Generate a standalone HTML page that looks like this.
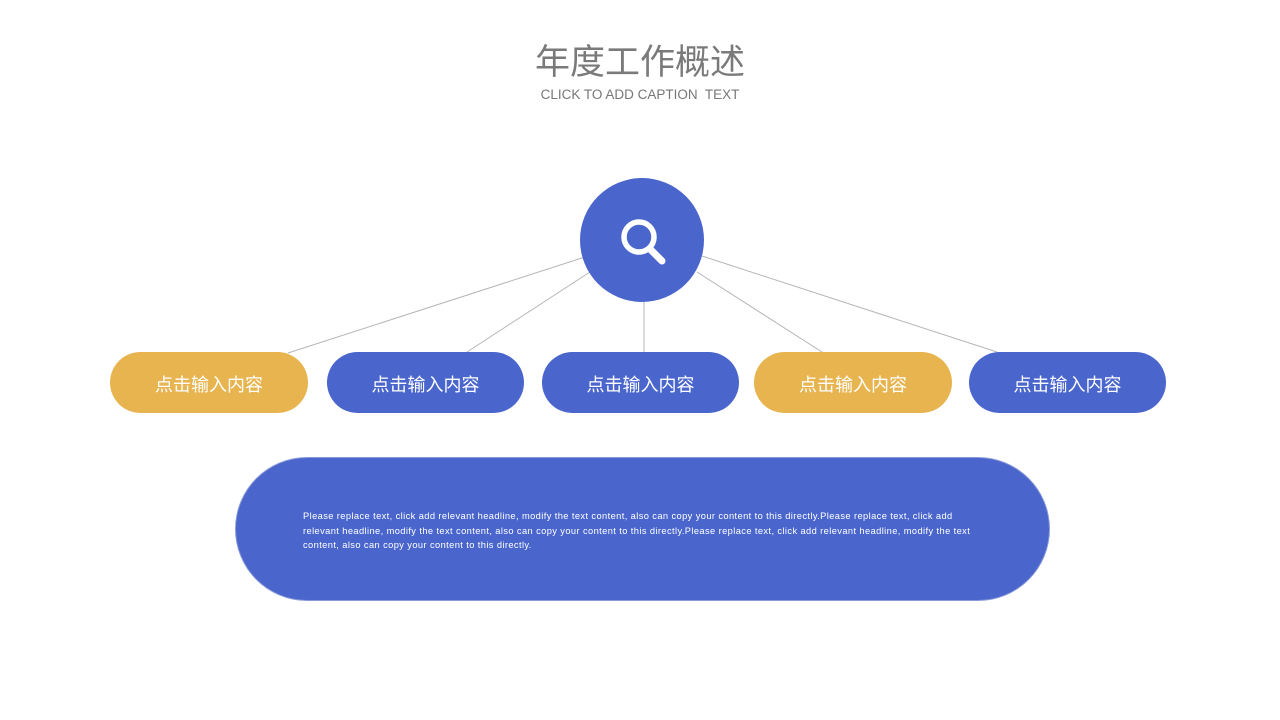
<!DOCTYPE html>
<html><head><meta charset="utf-8"><style>
html,body{margin:0;padding:0}
body{width:1280px;height:720px;position:relative;background:#fff;overflow:hidden;font-family:"Liberation Sans","Noto Sans CJK SC",sans-serif}
.t{position:absolute;left:0;width:1280px;text-align:center;color:#7a7a7a}
.pill{position:absolute;top:352px;height:61px;border-radius:31px;color:#fff;font-size:18px;line-height:66px;text-align:center}
.y{background:#E8B450}.b{background:#4A66CC}
</style></head><body>
<div class="t" style="top:40px;font-size:35px;line-height:46px">年度工作概述</div>
<div class="t" style="top:87px;font-size:13.5px;line-height:16px;color:#777">CLICK TO ADD CAPTION&nbsp; TEXT</div>
<svg width="1280" height="720" style="position:absolute;left:0;top:0">
<g stroke="#b5b5b5" stroke-width="1">
<line x1="585" y1="257" x2="288" y2="353"/>
<line x1="590" y1="272" x2="467" y2="352"/>
<line x1="644" y1="300" x2="644" y2="352"/>
<line x1="697" y1="272" x2="822" y2="352"/>
<line x1="702" y1="256" x2="997" y2="352"/>
</g>
<circle cx="642" cy="240" r="62" fill="#4A66CC"/>
<circle cx="639" cy="237" r="15" fill="none" stroke="#fff" stroke-width="5.5"/>
<line x1="650" y1="249" x2="662" y2="261" stroke="#fff" stroke-width="7" stroke-linecap="round"/>
</svg>
<div class="pill y" style="left:110px;width:198px">点击输入内容</div>
<div class="pill b" style="left:327px;width:197px">点击输入内容</div>
<div class="pill b" style="left:542px;width:197px">点击输入内容</div>
<div class="pill y" style="left:754px;width:198px">点击输入内容</div>
<div class="pill b" style="left:969px;width:197px">点击输入内容</div>
<div style="position:absolute;left:236px;top:458px;width:813px;height:142px;border-radius:71px;background:#4A66CC;box-shadow:0 0 0 1px #8a9ad8"></div>
<div style="position:absolute;left:303px;top:509px;width:672px;color:#fff;font-size:9.3px;line-height:14.6px;letter-spacing:0.4px">Please replace text, click add relevant headline, modify the text content, also can copy your content to this directly.Please replace text, click add relevant headline, modify the text content, also can copy your content to this directly.Please replace text, click add relevant headline, modify the text content, also can copy your content to this directly.</div>
</body></html>
